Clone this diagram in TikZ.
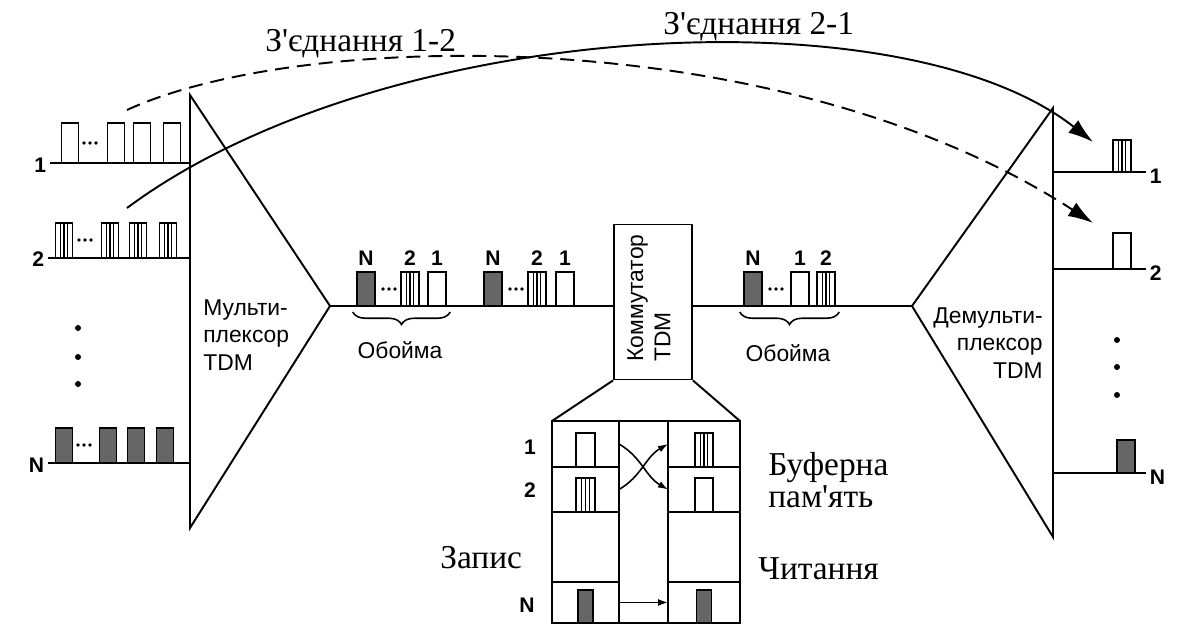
\documentclass[tikz,border=0pt]{standalone}
\usepackage{fontspec}
\setmainfont{Liberation Serif}
\setsansfont{Liberation Sans}
\usetikzlibrary{arrows.meta,calc,decorations.pathreplacing}

\begin{document}
\begin{tikzpicture}[
  x=0.02cm, y=-0.02cm,
  wire/.style={line width=1.6pt},
  edge/.style={line width=1.1pt},
  num/.style={font=\sffamily\bfseries\fontsize{12}{12}\selectfont, inner sep=2pt},
  lbl/.style={font=\sffamily\fontsize{13}{15.5}\selectfont, inner sep=0pt},
  serif/.style={font=\fontsize{19}{18}\selectfont, inner sep=0pt},
  pkt/.style={draw, line width=0.9pt, fill=white, minimum width=0.34cm, minimum height=0.8cm, inner sep=0pt, outer sep=0pt, anchor=south},
  stripe/.style={pkt, path picture={\foreach \f in {0.3,0.5,0.7}
      \draw[line width=0.6pt] ($(path picture bounding box.south west)!\f!(path picture bounding box.south east)$) -- ($(path picture bounding box.north west)!\f!(path picture bounding box.north east)$);}},
  dark/.style={pkt, fill=black!60},
  fp/.style={minimum width=0.37cm, minimum height=0.68cm},
  cell/.style={draw, line width=1.1pt, inner sep=0pt, outer sep=0pt, anchor=north west},
  conn/.style={line width=1.1pt, -{Latex[length=0.5cm,width=0.32cm]}},
  sarr/.style={line width=0.9pt, -{Latex[length=0.2cm,width=0.14cm]}},
  brc/.style={decorate, decoration={brace, mirror, amplitude=0.25cm}, line width=0.9pt}
]
\useasboundingbox (0,0) rectangle (1181,628);

% multiplexer
\coordinate (mxt) at (190,95);
\coordinate (mxb) at (190,528);
\coordinate (mxa) at (330,306);
\draw[edge] (mxt) -- (mxa) -- (mxb) -- cycle;
\node[lbl, anchor=west, align=left] (mxl) at (203,335) {Мульти-\\плексор\\TDM};

% inputs
\node[num, anchor=east] (in1) at (50,165) {1};
\node[num, anchor=east] (in2) at (48,259) {2};
\node[num, anchor=east] (inN) at (48,465) {N};
\draw[wire] (in1.east |- 0,163) -- (mxt |- 0,163);
\draw[wire] (in2.east |- 0,258) -- (mxt |- 0,258);
\draw[wire] (inN.east |- 0,463) -- (mxt |- 0,463);
\foreach \x [count=\i] in {70,116,142,172} \node[pkt] (pa\i) at (\x,163) {};
\foreach \x [count=\i] in {64,110,138,168} \node[stripe, minimum height=0.7cm] (pb\i) at (\x,258) {};
\foreach \x [count=\i] in {64,108,136,165} \node[dark, minimum height=0.7cm] (pc\i) at (\x,463) {};
\foreach \x in {84,90,96} {
  \fill (\x,143) circle (1.1pt);
  \fill (\x-5,240) circle (1.1pt);
  \fill (\x-6,445) circle (1.1pt);
}
\foreach \y in {328,357,384} \fill (78,\y) circle (1.7pt);

% commutator
\node[draw, edge, minimum width=1.56cm, minimum height=3.1cm, inner sep=0pt] (com) at (653,302) {};
\node[lbl, rotate=90, align=left] (coml) at (649,298) {Коммутатор\\TDM};

% demultiplexer
\coordinate (dxt) at (1053,108);
\coordinate (dxb) at (1053,537);
\coordinate (dxa) at (912,306);
\draw[edge] (dxt) -- (dxa) -- (dxb) -- cycle;
\node[lbl, anchor=east, align=right] (dxl) at (1043,343) {Демульти-\\плексор\\TDM};

% trunk
\draw[line width=1.3pt] (mxa) -- (mxa -| com.west);
\draw[line width=1.3pt] (com.east |- dxa) -- (dxa);

% frames
\foreach \x/\s/\t [count=\i] in {366/dark/N,410/stripe/2,437/pkt/1,493/dark/N,537/stripe/2,565/pkt/1,753/dark/N,800/pkt/1,826/stripe/2} {
  \node[\s, fp] (f\i) at (\x,306) {};
  \node[num] (fl\i) at (\x,258) {\t};
}
\foreach \x in {383,389,395,510,516,522,770,776,782} \fill (\x,289) circle (1.1pt);
\draw[brc] ($(f1.south west)+(-4,6)$) -- ($(f3.south east)+(4,6)$);
\node[lbl] (ob1) at (400,350) {Обойма};
\draw[brc] ($(f7.south west)+(-4,6)$) -- ($(f9.south east)+(4,6)$);
\node[lbl] (ob2) at (788,353) {Обойма};

% outputs
\node[num, anchor=west] (out1) at (1146,176) {1};
\node[num, anchor=west] (out2) at (1146,273) {2};
\node[num, anchor=west] (outN) at (1146,477) {N};
\draw[wire] (dxt |- 0,172) -- (out1.west |- 0,172);
\draw[wire] (dxt |- 0,269) -- (out2.west |- 0,269);
\draw[wire] (dxt |- 0,473) -- (outN.west |- 0,473);
\node[stripe, fp, minimum height=0.64cm] (q1) at (1122,172) {};
\node[pkt, fp, minimum height=0.72cm] (q2) at (1122,269) {};
\node[dark, fp, minimum height=0.66cm] (qN) at (1126,473) {};
\foreach \y in {340,367,395} \fill (1117,\y) circle (1.7pt);

% buffer memory
\node[cell, minimum width=1.34cm, minimum height=0.92cm] (w1) at (552,421) {};
\node[cell, minimum width=1.34cm, minimum height=0.9cm] (w2) at (w1.south west) {};
\node[cell, minimum width=1.34cm, minimum height=1.4cm] (wx) at (w2.south west) {};
\node[cell, minimum width=1.34cm, minimum height=0.82cm] (wN) at (wx.south west) {};
\node[cell, minimum width=1.44cm, minimum height=0.92cm] (r1) at (668,421) {};
\node[cell, minimum width=1.44cm, minimum height=0.9cm] (r2) at (r1.south west) {};
\node[cell, minimum width=1.44cm, minimum height=1.4cm] (rx) at (r2.south west) {};
\node[cell, minimum width=1.44cm, minimum height=0.82cm] (rN) at (rx.south west) {};
\draw[edge] (w1.north east) -- (r1.north west);
\draw[edge] (wN.south east) -- (rN.south west);
\draw[edge] (w1.north west) -- (com.south west);
\draw[edge] (r1.north east) -- (com.south east);
\node[pkt, fp] (wp1) at (w1.south) {};
\node[stripe, fp] (wp2) at (w2.south) {};
\node[dark, fp, minimum width=0.3cm, minimum height=0.66cm] (wpN) at (wN.south) {};
\node[stripe, fp] (rp1) at (r1.south) {};
\node[pkt, fp] (rp2) at (r2.south) {};
\node[dark, fp, minimum width=0.3cm, minimum height=0.66cm] (rpN) at (rN.south) {};
\draw[sarr] (w1.east) to[out=-30,in=150] (r2.west);
\draw[sarr] (w2.east) to[out=30,in=-150] (r1.west);
\draw[sarr] (wN.east) -- (rN.west);
\node[num] (b1) at (530,447) {1};
\node[num] (b2) at (530,490) {2};
\node[num] (bN) at (527,605) {N};
\node[serif, anchor=north west, align=left] (bufl) at (768,452) {Буферна\\пам\textquotesingle ять};
\node[serif, anchor=base west] (wrl) at (440,568) {Запис};
\node[serif, anchor=base west] (rdl) at (758,580) {Читання};

% connections
\coordinate (s12) at (127,110);
\coordinate (e12) at (1093,223);
\coordinate (s21) at (127,208);
\coordinate (e21) at (1093,142);
\draw[conn, dash pattern=on 0.28cm off 0.16cm] (s12) .. controls (300,30) and (780,20) .. (e12);
\draw[conn] (s21) .. controls (380,20) and (900,-10) .. (e21);
\node[serif, anchor=base west] (c12) at (265,52) {З\textquotesingle єднання 1-2};
\node[serif, anchor=base west] (c21) at (663,35) {З\textquotesingle єднання 2-1};
\end{tikzpicture}
\end{document}
